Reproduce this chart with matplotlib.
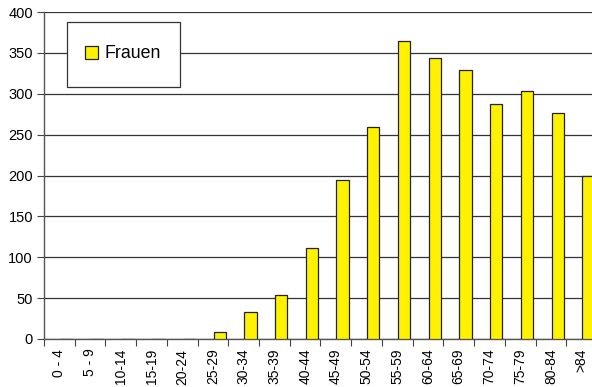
import numpy as np
import matplotlib.pyplot as plt
from matplotlib.patches import Rectangle

plt.rcParams['font.family'] = ['Liberation Sans', 'DejaVu Sans']

# age groups and counts (Frauen)
age_groups = ['0 - 4', '5 - 9', '10-14', '15-19', '20-24', '25-29', '30-34',
              '35-39', '40-44', '45-49', '50-54', '55-59', '60-64', '65-69',
              '70-74', '75-79', '80-84', '>84']
frauen = [0, 0, 0, 0, 0, 8, 33, 54, 111, 195, 259, 365, 344, 329,
          288, 303, 277, 199]
y_ticks = [0, 50, 100, 150, 200, 250, 300, 350, 400]

fig = plt.figure(figsize=(5.92, 3.87), dpi=100)
ax = fig.add_axes([44 / 592, 48 / 387, 553 / 592, 327 / 387])

x = np.arange(len(age_groups))
ax.bar(x + 0.02, frauen, width=0.4, align='edge', color='#fff200',
       edgecolor='#222222', linewidth=0.9, zorder=3, label='Frauen')

ax.set_xlim(-0.5, len(age_groups) - 0.5)
ax.set_ylim(0, 400)
ax.set_yticks(y_ticks)
ax.yaxis.grid(True, color='#333333', linewidth=0.9)
ax.set_axisbelow(True)

# tick marks on category boundaries, labels in the middle
ax.set_xticks(np.arange(len(age_groups) + 1) - 0.5)
ax.set_xticklabels([])
ax.set_xticks(x, minor=True)
ax.set_xticklabels(age_groups, minor=True, rotation=90, fontsize=10)
ax.tick_params(axis='x', which='major', length=5, color='#444444')
ax.tick_params(axis='x', which='minor', length=0, pad=7)
ax.tick_params(axis='y', length=5, color='#444444', labelsize=10.5, pad=3)

for s in ['top', 'right']:
    ax.spines[s].set_visible(False)
for s in ['left', 'bottom']:
    ax.spines[s].set_color('#555555')
    ax.spines[s].set_linewidth(1.0)

# legend box
fig.patches.append(Rectangle((67 / 592, 1 - 87 / 387), 113 / 592, 65 / 387,
                             transform=fig.transFigure, facecolor='white',
                             edgecolor='#333333', linewidth=0.9, zorder=5))
leg = fig.legend(loc='center', bbox_to_anchor=(123 / 592, 1 - 54 / 387),
                 frameon=False, fontsize=12.8, handlelength=0.75,
                 handleheight=0.75, handletextpad=0.35)
leg.set_zorder(6)

fig.savefig('out.png', dpi=100)
